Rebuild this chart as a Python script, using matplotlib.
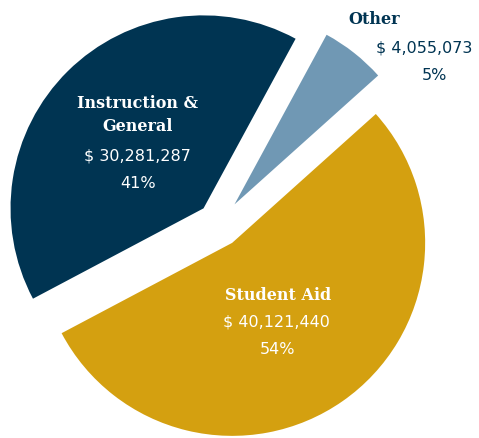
import matplotlib
matplotlib.use("Agg")
import matplotlib.pyplot as plt

# budget split
categories = ["Other", "Student Aid", "Instruction &\nGeneral"]
amounts = [4055073, 40121440, 30281287]
percents = ["5%", "54%", "41%"]
colors = ["#7098b4", "#d4a010", "#003452"]
text_colors = ["#003452", "white", "white"]

W, H = 479, 438
fig = plt.figure(figsize=(W / 100, H / 100), dpi=100)
ax = fig.add_axes([0, 0, 1, 1])

R = 193
# explode is in data units here (axes are in pixels), not a fraction of R
ax.pie(amounts, colors=colors, startangle=61.5, counterclock=False,
       explode=[25, 23, 22], radius=R, center=(219, H - 224), frame=True,
       wedgeprops=dict(linewidth=0))
ax.set_xlim(0, W)
ax.set_ylim(0, H)
ax.set_aspect("equal")
ax.axis("off")

# label anchors (pixel coords, top-left origin)
label_pos = [
    dict(title=(374, 20), value=(424, 48), pct=(434, 76)),
    dict(title=(278, 296), value=(276, 322), pct=(278, 350)),
    dict(title=(138, 115), value=(137, 156), pct=(138, 183)),
]
for cat, amt, pct, tc, lp in zip(categories, amounts, percents, text_colors, label_pos):
    tx, ty = lp["title"]
    ax.text(tx, H - ty, cat, ha="center", va="center", color=tc, fontsize=11.5,
            fontweight="bold", family="DejaVu Serif", linespacing=1.45)
    vx, vy = lp["value"]
    ax.text(vx, H - vy, f"$ {amt:,}", ha="center", va="center", color=tc, fontsize=11.5)
    px, py = lp["pct"]
    ax.text(px, H - py, pct, ha="center", va="center", color=tc, fontsize=11.5)

fig.savefig("out.png", dpi=100)
